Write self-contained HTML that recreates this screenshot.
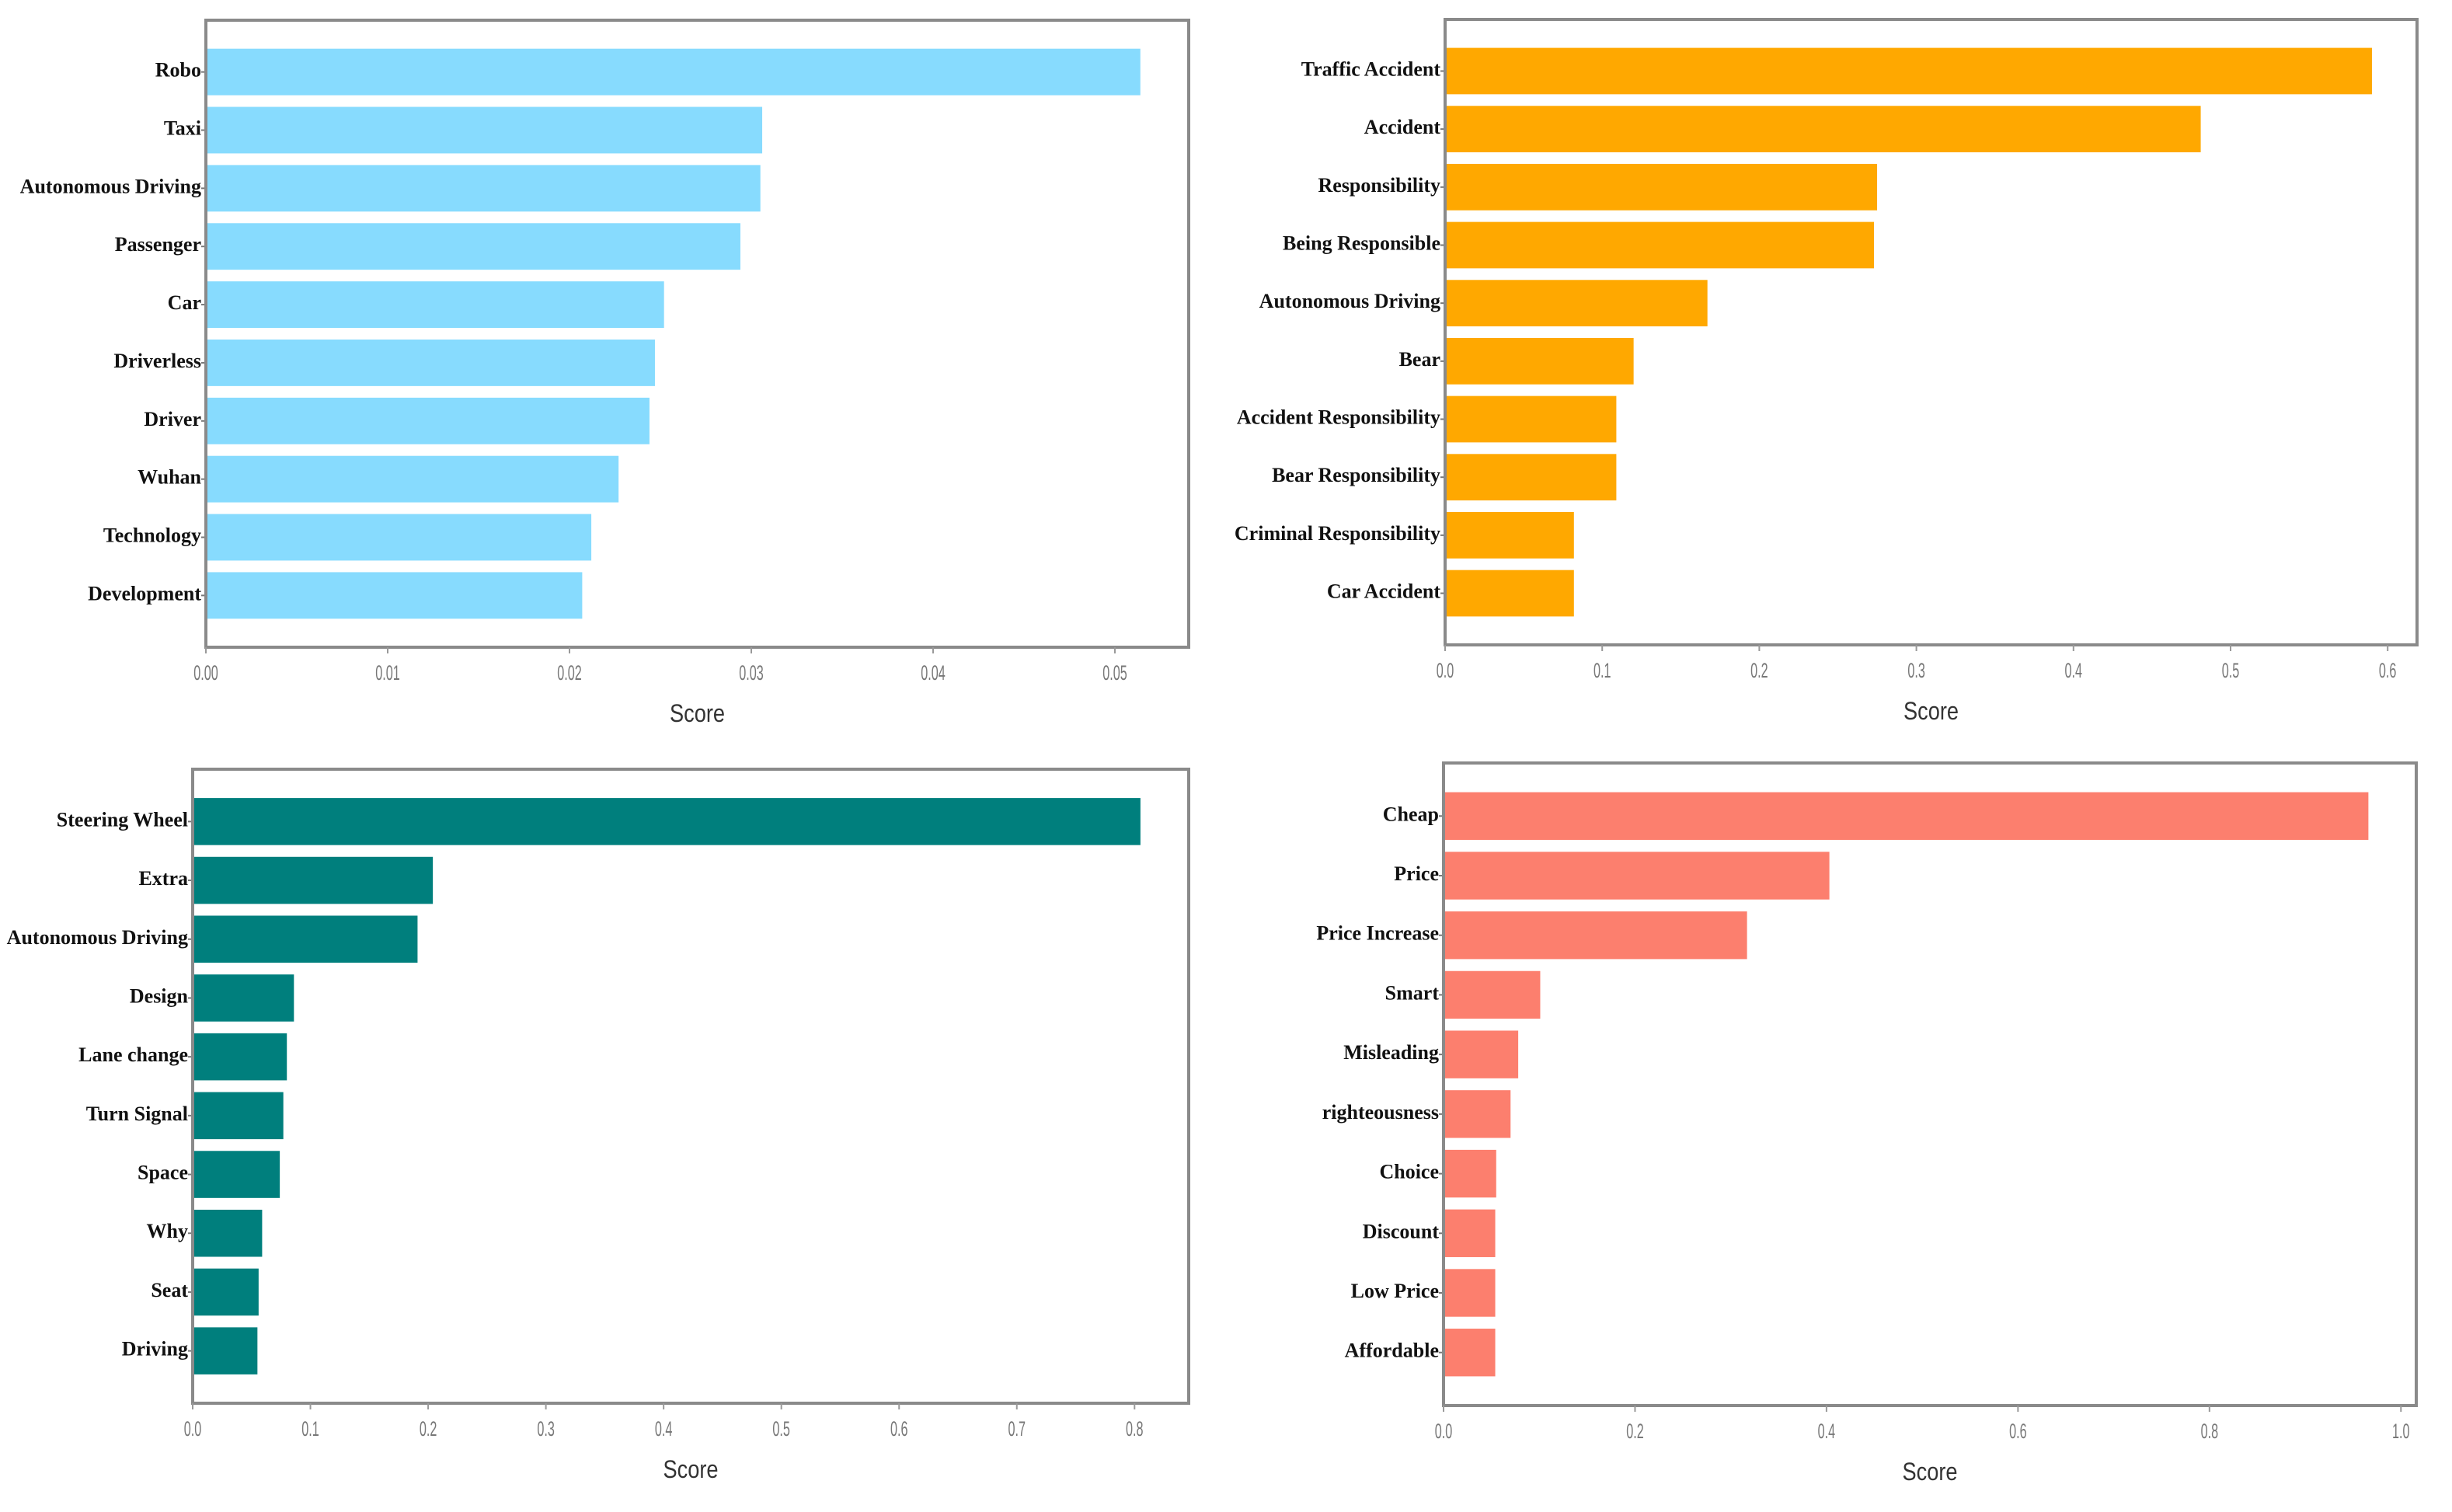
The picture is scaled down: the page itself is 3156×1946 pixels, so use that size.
<!DOCTYPE html>
<html><head><meta charset="utf-8"><style>
html,body{margin:0;padding:0;background:#fff;}
svg{display:block;}
</style></head><body>
<svg id="chart" width="3156" height="1946" viewBox="0 0 3156 1946" xmlns="http://www.w3.org/2000/svg"></svg>
<script>
const labels1 = ["Robo","Taxi","Autonomous Driving","Passenger","Car","Driverless","Driver","Wuhan","Technology","Development"];
const values1 = [0.0514,0.0306,0.0305,0.0294,0.0252,0.0247,0.0244,0.0227,0.0212,0.0207];
const ticks1 = [0,0.01,0.02,0.03,0.04,0.05];
const tickLabels1 = ["0.00","0.01","0.02","0.03","0.04","0.05"];

const labels2 = ["Traffic Accident","Accident","Responsibility","Being Responsible","Autonomous Driving","Bear","Accident Responsibility","Bear Responsibility","Criminal Responsibility","Car Accident"];
const values2 = [0.590,0.481,0.275,0.273,0.167,0.120,0.109,0.109,0.082,0.082];
const ticks2 = [0,0.1,0.2,0.3,0.4,0.5,0.6];
const tickLabels2 = ["0.0","0.1","0.2","0.3","0.4","0.5","0.6"];

const labels3 = ["Steering Wheel","Extra","Autonomous Driving","Design","Lane change","Turn Signal","Space","Why","Seat","Driving"];
const values3 = [0.805,0.204,0.191,0.086,0.080,0.077,0.074,0.059,0.056,0.055];
const ticks3 = [0,0.1,0.2,0.3,0.4,0.5,0.6,0.7,0.8];
const tickLabels3 = ["0.0","0.1","0.2","0.3","0.4","0.5","0.6","0.7","0.8"];

const labels4 = ["Cheap","Price","Price Increase","Smart","Misleading","righteousness","Choice","Discount","Low Price","Affordable"];
const values4 = [0.966,0.403,0.317,0.101,0.078,0.070,0.055,0.054,0.054,0.054];
const ticks4 = [0,0.2,0.4,0.6,0.8,1.0];
const tickLabels4 = ["0.0","0.2","0.4","0.6","0.8","1.0"];

const NS = "http://www.w3.org/2000/svg";
const svg = document.getElementById('chart');
function mk(tag, attrs, parent){
  const e = document.createElementNS(NS, tag);
  for (const k in attrs) e.setAttribute(k, attrs[k]);
  parent.appendChild(e);
  return e;
}
function panel(id, box, xmax, labels, values, ticks, tickLabels, color){
  const g = mk('g', {}, svg);
  
  
  const L = box.l, R = box.r, T = box.t, B = box.b;
  const xs = v => L + (v / xmax) * (R - L);
  const n = labels.length;
  const y0 = -0.89, y1 = n - 1 + 0.89;
  const ys = i => T + (i - y0) / (y1 - y0) * (B - T);
  const step = (B - T) / (y1 - y0);
  for (let i = 0; i < n; i++) {
    const r = mk('rect', {x: L, y: ys(i) - 0.4 * step, width: xs(values[i]) - L, height: 0.8 * step, fill: color}, g);
    
    
    const t = mk('text', {x: L - 6, y: ys(i) + 6, 'text-anchor': 'end', 'font-family': '"Liberation Serif", serif', 'font-weight': 'bold', 'font-size': 26, fill: '#111'}, g);
    t.textContent = labels[i];
    
    
    mk('line', {x1: L - 6, x2: L, y1: ys(i), y2: ys(i), stroke: '#777', 'stroke-width': 2}, g);
  }
  const f = mk('rect', {x: L, y: T, width: R - L, height: B - T, fill: 'none', stroke: '#8a8a8a', 'stroke-width': 4}, g);
  
  
  for (let j = 0; j < ticks.length; j++) {
    const x = xs(ticks[j]);
    mk('line', {x1: x, x2: x, y1: B, y2: B + 8, stroke: '#999', 'stroke-width': 2}, g);
    const t = mk('text', {x: x, y: B + 42, 'text-anchor': 'middle', 'font-family': '"Liberation Sans", sans-serif', 'font-size': 27, fill: '#777', transform: 'translate(' + x + ',0) scale(0.6,1) translate(' + (-x) + ',0)'}, g);
    t.textContent = tickLabels[j];
    
    
  }
  const cx = (L + R) / 2;
  const xt = mk('text', {x: cx, y: B + 96, 'text-anchor': 'middle', 'font-family': '"Liberation Sans", sans-serif', 'font-size': 32, fill: '#333', transform: 'translate(' + cx + ',0) scale(0.85,1) translate(' + (-cx) + ',0)'}, g);
  xt.textContent = 'Score';
  
  
}
panel('robotaxi', {l:265, r:1530, t:26, b:833}, 0.05406, labels1, values1, ticks1, tickLabels1, '#87DBFE');
panel('accident', {l:1860, r:3111, t:25, b:830}, 0.6187, labels2, values2, ticks2, tickLabels2, '#FFA800');
panel('steering', {l:248, r:1530, t:990, b:1806}, 0.846, labels3, values3, ticks3, tickLabels3, '#007F7D');
panel('price', {l:1858, r:3110, t:982, b:1809}, 1.016, labels4, values4, ticks4, tickLabels4, '#FC7F6E');
</script>
</body></html>
